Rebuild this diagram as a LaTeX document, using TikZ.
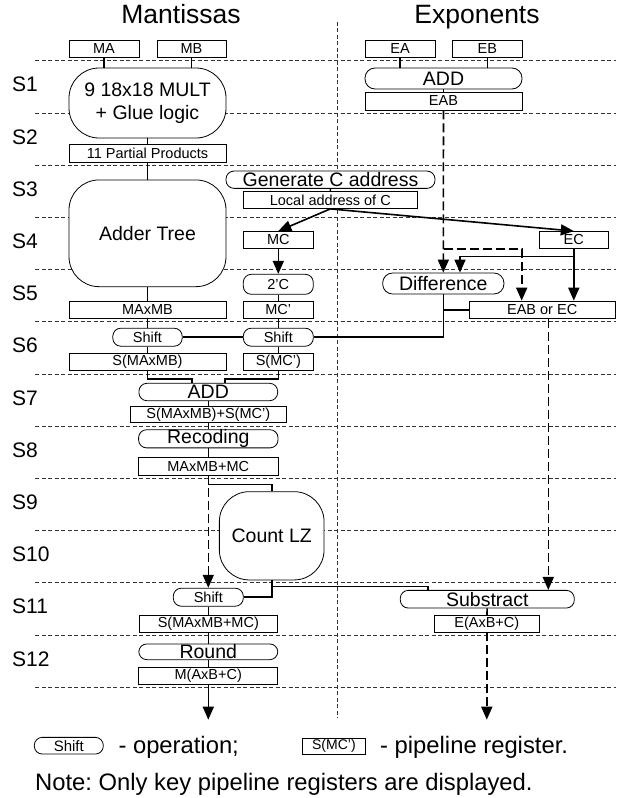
\documentclass[tikz,border=0pt]{standalone}
\usepackage{fontspec}
\setmainfont{Liberation Sans}
\usepackage{tikz}
\usetikzlibrary{positioning,arrows.meta,calc}
\frenchspacing
\newcommand{\titletxt}{\fontsize{26.5}{26.5}\selectfont}
\newcommand{\stagetxt}{\fontsize{21}{21}\selectfont}
\newcommand{\bigtxt}{\fontsize{19.5}{22.5}\selectfont}
\newcommand{\smalltxt}{\fontsize{14.5}{16}\selectfont}
\newcommand{\legtxt}{\fontsize{23.8}{26}\selectfont}

\begin{document}
\begin{tikzpicture}[
    x=1pt, y=-1pt,
    every node/.style={inner sep=0pt},
    reg/.style={draw, fill=white, line width=0.8pt, minimum height=17pt, font=\smalltxt},
    op/.style={draw, fill=white, line width=0.8pt, rounded corners=8pt,
               minimum height=18pt, font=\bigtxt},
    sop/.style={op, font=\smalltxt},
    bigop/.style={draw, fill=white, line width=0.8pt, rounded corners=30pt,
                  font=\bigtxt, align=center},
    stage/.style={anchor=west, font=\stagetxt},
    gridline/.style={black!80, line width=0.75pt, dash pattern=on 4pt off 2.5pt},
    wire/.style={line width=1.6pt},
    arr/.style={wire, -{Triangle[length=13pt,width=11pt]}},
    darr/.style={arr, dash pattern=on 9pt off 4pt},
]
  \useasboundingbox (0,0) rectangle (616,798);
  % Titles
  \node[anchor=base, font=\titletxt] (tman) at (181,23.5) {Mantissas};
  \node[anchor=base, font=\titletxt] (texp) at (477,23.5) {Exponents};
  % Stage grid
  \foreach \k in {0,...,12}
    \draw[gridline] (35,{60.7+52.2*\k}) -- (616,{60.7+52.2*\k});
  \draw[gridline] (337.3,21.7) -- (337.3,717.3);
  \foreach \k in {1,...,12}
    \node[stage] (s\k) at (12,{32.5+52.2*\k}) {S\k};
  % Mantissa path
  \node[reg, minimum width=70pt] (ma) at (104,48.5) {MA};
  \node[reg, minimum width=69pt] (mb) at (191.5,48.5) {MB};
  \node[bigop, minimum width=157pt, minimum height=70pt] (mult) at (147.5,103)
    {9 18x18 MULT\\+ Glue logic};
  \node[reg, minimum width=157pt, minimum height=18pt] (pp) at (147.5,153) {11 Partial Products};
  \node[bigop, minimum width=157pt, minimum height=106.7pt] (adder) at (147.5,233.3) {Adder Tree};
  \node[reg, minimum width=157pt] (maxmb) at (147.5,310) {MAxMB};
  \node[sop, minimum width=69.4pt] (shiftm) at (147.5,337.2) {Shift};
  \node[reg, minimum width=157pt] (smaxmb) at (147.5,361.7) {S(MAxMB)};
  % C operand path
  \node[op, minimum width=209pt, minimum height=17.3pt] (genc) at (330.5,179.7) {Generate C address};
  \node[reg, minimum width=174pt] (locc) at (330.3,200) {Local address of C};
  \node[reg, minimum width=70pt] (mc) at (278.3,240) {MC};
  \node[sop, minimum width=70pt, minimum height=20pt] (twoc) at (278.3,284.3) {2'C};
  \node[reg, minimum width=70pt] (mcp) at (278.3,309.7) {MC'};
  \node[sop, minimum width=70pt] (shiftc) at (278.3,337.2) {Shift};
  \node[reg, minimum width=70pt] (smc) at (278.3,361.7) {S(MC')};
  % Add, normalise, round
  \node[op, minimum width=138.7pt, minimum height=17.4pt] (addm) at (208.3,392) {ADD};
  \node[reg, minimum width=156.7pt, minimum height=16.7pt] (sum) at (208.3,414.3) {S(MAxMB)+S(MC')};
  \node[op, minimum width=139.4pt, minimum height=17.7pt] (recod) at (208.3,438.8) {Recoding};
  \node[reg, minimum width=139.4pt, minimum height=17.7pt] (mm) at (208.3,466.2) {MAxMB+MC};
  \node[bigop, minimum width=104.7pt, minimum height=88.3pt] (clz) at (271.7,535.8) {Count LZ};
  \node[sop, minimum width=70pt] (shiftn) at (208.3,597.2) {Shift};
  \node[reg, minimum width=138.7pt, minimum height=16.3pt] (snorm) at (208.3,623.8) {S(MAxMB+MC)};
  \node[op, minimum width=139pt, minimum height=15.7pt] (rnd) at (208.3,651.8) {Round};
  \node[reg, minimum width=139pt] (mres) at (208.3,675.5) {M(AxB+C)};
  \coordinate (mout) at (208.3,719.7);
  % Exponent path
  \node[reg, minimum width=70pt] (ea) at (400,48.5) {EA};
  \node[reg, minimum width=70pt] (eb) at (487.3,48.5) {EB};
  \node[op, minimum width=157pt, minimum height=21pt, rounded corners=10pt] (adde) at (443.5,78.5) {ADD};
  \node[reg, minimum width=157pt, minimum height=18pt] (eab) at (443.5,101) {EAB};
  \node[reg, minimum width=69pt] (ec) at (573.8,240) {EC};
  \node[op, minimum width=121.3pt, minimum height=21pt, rounded corners=10pt] (diff) at (443.3,283.5) {Difference};
  \node[reg, minimum width=145.7pt, minimum height=17.3pt] (eabec) at (542.2,309.7) {EAB or EC};
  \node[op, minimum width=174pt, minimum height=17.7pt] (subs) at (487.3,599.2) {Substract};
  \node[reg, minimum width=105pt, minimum height=16.7pt] (eres) at (486.8,623.7) {E(AxB+C)};
  \coordinate (eout) at (486.8,719.7);
  % Mantissa wires
  \draw[wire] (ma) -- (ma |- mult.north);
  \draw[wire] (mb) -- (mb |- mult.north);
  \draw[wire] (mult) -- (pp);
  \draw[wire] (pp) -- (adder);
  \draw[wire] (adder) -- (maxmb);
  \draw[wire] (maxmb) -- (shiftm);
  \draw[wire] (shiftm) -- (smaxmb);
  \draw[wire] (shiftm) -- (shiftc);
  \draw[wire] (smaxmb.south) -- ++(0,8.3) -| ($(addm.north)+(-16.6,0)$);
  \draw[wire] (smc.south) -- ++(0,8.3) -| ($(addm.north)+(16.7,0)$);
  % C wires
  \draw[wire] (genc) -- (locc);
  \draw[arr] (locc.south) -- (mc.north);
  \draw[arr] (locc.south) -- (ec.north);
  \draw[arr] (mc) -- (twoc);
  \draw[wire] (twoc) -- (mcp);
  \draw[wire] (mcp) -- (shiftc);
  \draw[wire] (shiftc) -- (smc);
  % Normalise wires
  \draw[wire] (addm) -- (sum);
  \draw[wire] (sum) -- (recod);
  \draw[wire] (recod) -- (mm);
  \draw[darr] (mm) -- (shiftn);
  \draw[wire] (mm.south) -- ++(0,9) -| (clz.north);
  \draw[wire] (clz.south) |- (shiftn.east);
  \coordinate (lzsplit) at ($(clz.south)+(0,6.3)$);
  \draw[wire] (lzsplit) -| ($(subs.north)+(-59.6,0)$);
  \draw[wire] (shiftn) -- (snorm);
  \draw[wire] (snorm) -- (rnd);
  \draw[wire] (rnd) -- (mres);
  \draw[arr] (mres) -- (mout);
  % Exponent wires
  \draw[wire] (ea) -- (ea |- adde.north);
  \draw[wire] (eb) -- (eb |- adde.north);
  \draw[wire] (adde) -- (eab);
  \draw[darr] (eab) -- (diff);
  \coordinate (eabsplit) at (443.5,249);
  \draw[darr] (eabsplit) -| ($(eabec.north)+(-20.5,0)$);
  \draw[arr] (ec.south) -- ++(0,7.4) -| ($(diff.north)+(16.7,0)$);
  \draw[arr] (ec) -- (ec |- eabec.north);
  \draw[wire] (diff.south) |- (shiftc.east);
  \draw[wire] (diff.south |- eabec.west) -- (eabec.west);
  \coordinate (eabecout) at ($(eabec.south)+(6.1,0)$);
  \draw[darr] (eabecout) -- (eabecout |- subs.north);
  \draw[wire] (subs) -- (eres);
  \draw[darr] (eres) -- (eout);
  % Legend
  \node[sop, minimum width=69pt, minimum height=16.7pt, font=\fontsize{15}{16}\selectfont] (legop) at (68.8,745.7) {Shift};
  \node[anchor=base west, font=\legtxt] (legoptxt) at (118.3,753.5) {- operation;};
  \node[reg, minimum width=62.8pt, minimum height=15.3pt, font=\fontsize{14}{15}\selectfont] (legreg) at (333.9,746.3) {S(MC')};
  \node[anchor=base west, font=\legtxt] (legregtxt) at (380,753.5) {- pipeline register.};
  \node[anchor=base west, font=\legtxt] (note) at (35,790) {Note: Only key pipeline registers are displayed.};
\end{tikzpicture}
\end{document}
